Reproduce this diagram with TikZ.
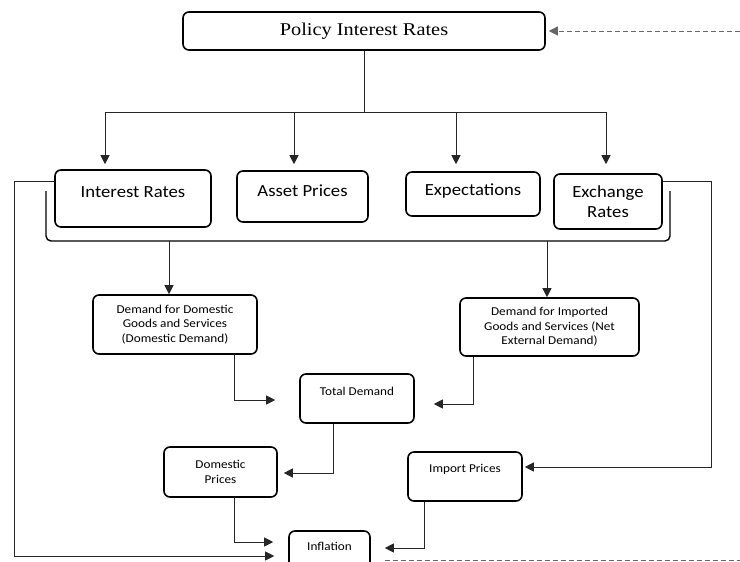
\documentclass[tikz,border=0pt]{standalone}
\usepackage{fontspec}
\setmainfont{Carlito}[FakeStretch=1.1]
\newfontfamily\timesfont{Liberation Serif}[FakeStretch=1.13]
\usetikzlibrary{arrows.meta,positioning}

\begin{document}
\begin{tikzpicture}[x=1pt,y=-1pt]
\tikzstyle{box}=[draw,line width=1.6pt,rounded corners=6pt,align=center,inner sep=0pt]
\tikzstyle{big}=[box,font=\fontsize{17}{20}\selectfont]
\tikzstyle{small}=[box,font=\fontsize{12}{14.5}\selectfont]
\tikzstyle{link}=[draw=black!85,line width=0.8pt]
\tikzstyle{arr}=[link,-{Triangle[length=9pt,width=9pt]}]
\useasboundingbox (0,0) rectangle (740,562);
\clip (0,0) rectangle (740,562);
\fill[white] (0,0) rectangle (740,562);

% channels
\node[box,minimum width=362pt,minimum height=38pt,font=\timesfont\fontsize{18}{20}\selectfont] (policy) at (364,31) {Policy Interest Rates};
\node[big,minimum width=156pt,minimum height=57pt,text depth=12pt] (intrate) at (133,198.5) {Interest Rates};
\node[big,minimum width=131pt,minimum height=51pt,text depth=12pt] (asset) at (302.5,196.5) {Asset Prices};
\node[big,minimum width=134pt,minimum height=44pt,text depth=9pt] (expect) at (473,194) {Expectations};
\node[big,minimum width=108pt,minimum height=55pt] (exch) at (608,201.5) {Exchange\\Rates};

% demand and prices
\node[small,minimum width=164pt,minimum height=59pt] (domdem) at (175,324.5) {Demand for Domestic\\Goods and Services\\(Domestic Demand)};
\node[small,minimum width=179pt,minimum height=58pt] (impdem) at (549.5,327) {Demand for Imported\\Goods and Services (Net\\External Demand)};
\node[small,minimum width=114pt,minimum height=49pt,text depth=14pt] (total) at (357,398.5) {Total Demand};
\node[small,minimum width=113pt,minimum height=50pt] (domprice) at (220.5,472) {Domestic\\Prices};
\node[small,minimum width=114pt,minimum height=49pt,text depth=17pt] (impprice) at (465,476.5) {Import Prices};
\node[small,minimum width=81pt,minimum height=40pt,text depth=10pt] (infl) at (329.5,551) {Inflation};

% policy to channels
\coordinate (b1) at (105,112);
\coordinate (b2) at (294,112);
\coordinate (b3) at (456,112);
\coordinate (b4) at (606,112);
\draw[link] (policy.south) -- (policy.south |- b1);
\draw[link] (b1) -- (b4);
\draw[arr,shorten >=5pt] (b1) -- (b1 |- intrate.north);
\draw[arr,shorten >=6pt] (b2) -- (b2 |- asset.north);
\draw[arr,shorten >=7pt] (b3) -- (b3 |- expect.north);
\draw[arr,shorten >=9pt] (b4) -- (b4 |- exch.north);

% bracket
\draw[line width=1.4pt,rounded corners=5pt] (46,191) -- (46,241) -- (670,241) -- (670,191);
\coordinate (brL) at (169,241);
\coordinate (brR) at (547,241);
\draw[arr] (brL) -- (brL |- domdem.north);
\draw[arr] (brR) -- (brR |- impdem.north);

% to total demand and prices
\coordinate (d1) at (234,400);
\coordinate (d2) at (473,404);
\coordinate (d3) at (333,473);
\coordinate (d4) at (234,542);
\coordinate (d5) at (424,548);
\draw[arr,shorten >=24pt] (domdem.south -| d1) -- (d1) -- (total.west |- d1);
\draw[arr,shorten >=19pt] (impdem.south -| d2) -- (d2) -- (total.east |- d2);
\draw[arr,shorten >=6pt] (total.south -| d3) -- (d3) -- (domprice.east |- d3);
\draw[arr,shorten >=15pt] (domprice.south -| d4) -- (d4) -- (infl.west |- d4);
\draw[arr,shorten >=14pt] (impprice.south -| d5) -- (d5) -- (infl.east |- d5);

% side loops
\coordinate (lt) at (14,181);
\coordinate (lb) at (14,556);
\draw[arr,shorten >=14pt] (intrate.west |- lt) -- (lt) -- (lb) -- (infl.west |- lb);
\coordinate (rt) at (711,181);
\coordinate (rb) at (711,467);
\draw[arr,shorten >=2pt] (exch.east |- rt) -- (rt) -- (rb) -- (impprice.east |- rb);

% feedback
\coordinate (fb) at (740,560);
\coordinate (ft) at (740,31);
\draw[link,draw=black!60,dash pattern=on 5pt off 3pt,shorten <=14pt] (infl.east |- fb) -- (fb);
\draw[arr,draw=black!60,dash pattern=on 5pt off 3pt,shorten >=3pt] (ft) -- (policy.east);
\end{tikzpicture}
\end{document}
